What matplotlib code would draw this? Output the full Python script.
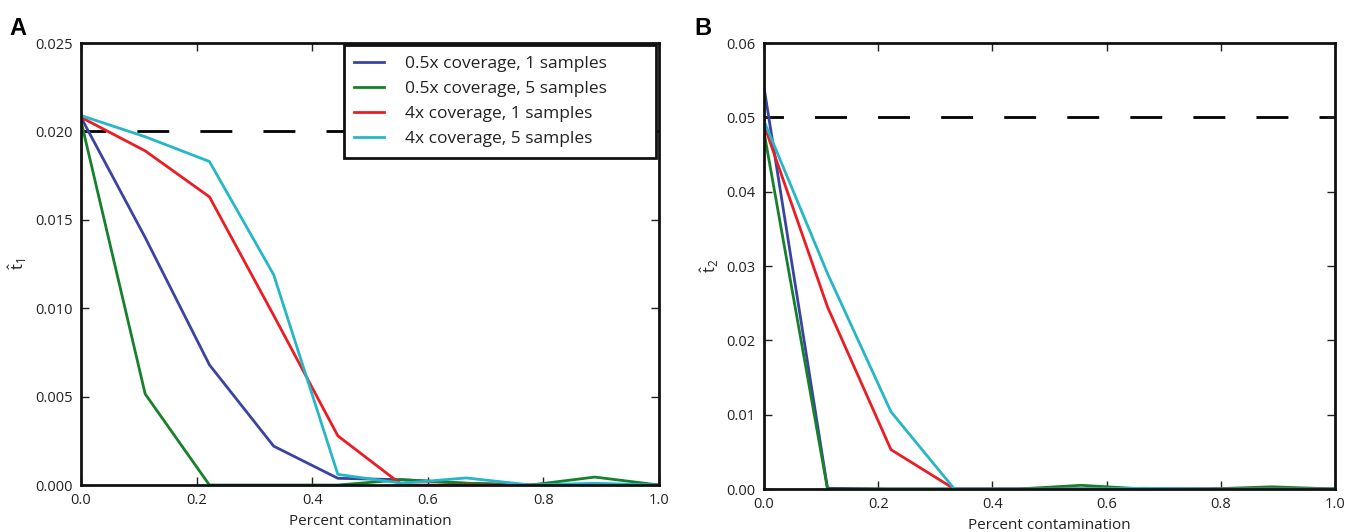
import numpy as np
import matplotlib
matplotlib.use("Agg")
import matplotlib.pyplot as plt

plt.rcParams['font.family'] = ['Open Sans', 'DejaVu Sans']
plt.rcParams['mathtext.fontset'] = 'custom'
plt.rcParams['mathtext.rm'] = 'Open Sans'
plt.rcParams['mathtext.it'] = 'Open Sans'

x = [0, 1/9, 2/9, 3/9, 4/9, 5/9, 6/9, 7/9, 8/9, 1.0]

labels = ["0.5x coverage, 1 samples", "0.5x coverage, 5 samples",
          "4x coverage, 1 samples", "4x coverage, 5 samples"]
colors = ['#3a44a0', '#17802c', '#ec1c24', '#25b7c6']

# Panel A: t1
a_blue = [0.0208, 0.0140, 0.0068, 0.0022, 0.00038, 0.0003, 0.0001, 0.0, 0.0, 0.0]
a_green = [0.0206, 0.00515, 0.0, 0.0, 0.0, 0.0003, 0.0001, 0.0, 0.00045, 0.0]
a_red = [0.0208, 0.0189, 0.0163, 0.0096, 0.00278, 0.0, 0.0, 0.0, 0.0, 0.0]
a_cyan = [0.0209, 0.0197, 0.0183, 0.0119, 0.0006, 0.0001, 0.0004, 0.0, 0.0001, 0.0]
a_thresh = 0.02

# Panel B: t2
b_blue = [0.054, 0.0001, 0.0, 0.0, 0.0, 0.0, 0.0, 0.0, 0.0, 0.0]
b_green = [0.048, 0.0, 0.0, 0.0, 0.0, 0.0005, 0.0, 0.0, 0.0003, 0.0]
b_red = [0.049, 0.0245, 0.0053, 0.0, 0.0, 0.0, 0.0, 0.0, 0.0, 0.0]
b_cyan = [0.0495, 0.029, 0.0104, 0.0, 0.0, 0.0, 0.0001, 0.0, 0.0, 0.0]
b_thresh = 0.05

fig = plt.figure(figsize=(13.54, 5.32), dpi=100)
axA = fig.add_axes([0.0598, 0.0883, 0.4269, 0.8308])
axB = fig.add_axes([0.5643, 0.0808, 0.4217, 0.8383])

def style(ax, ylim, yticks, yfmt, ylabel):
    ax.set_xlim(0, 1)
    ax.set_ylim(*ylim)
    ax.set_xticks([0, 0.2, 0.4, 0.6, 0.8, 1.0])
    ax.set_xticklabels(['0.0', '0.2', '0.4', '0.6', '0.8', '1.0'])
    ax.set_yticks(yticks)
    ax.set_yticklabels([yfmt.format(v) for v in yticks])
    ax.tick_params(direction='in', top=True, right=True, length=6, width=1,
                   labelsize=10.5, colors='#222222', pad=6)
    for s in ax.spines.values():
        s.set_linewidth(2)
        s.set_color('#111111')
    ax.set_xlabel('Percent contamination', fontsize=11, color='#222222', labelpad=4)
    ax.set_ylabel(ylabel, fontsize=12, color='#222222')

for ax, series, thr, off in [(axA, [a_blue, a_green, a_red, a_cyan], a_thresh, 2.6),
                             (axB, [b_blue, b_green, b_red, b_cyan], b_thresh, 4.5)]:
    for ys, c, lab in zip(series, colors, labels):
        ax.plot(x, ys, color=c, lw=2, label=lab, clip_on=True)
    ax.axhline(thr, color='black', lw=2, linestyle=(off, (11.5, 11.2)), zorder=1)

style(axA, (0, 0.025), [0, 0.005, 0.010, 0.015, 0.020, 0.025], '{:.3f}', r'$\hat{\mathrm{t}}_1$')
style(axB, (0, 0.06), [0, 0.01, 0.02, 0.03, 0.04, 0.05, 0.06], '{:.2f}', r'$\hat{\mathrm{t}}_2$')

leg = axA.legend(loc='upper left', bbox_to_anchor=(0.455, 0.7, 0.54, 0.2955),
                 mode='expand', borderaxespad=0,
                 fontsize=12.5, frameon=True, fancybox=False,
                 framealpha=1, handlelength=1.7, borderpad=0.6, labelspacing=0.52,
                 handletextpad=1.2)
leg.get_frame().set_edgecolor('#111111')
leg.get_frame().set_linewidth(2)
for t in leg.get_texts():
    t.set_color('#222222')

fig.text(0.007, 0.935, 'A', fontsize=17, fontweight='bold', family='Liberation Sans')
fig.text(0.513, 0.935, 'B', fontsize=17, fontweight='bold', family='Liberation Sans')

fig.savefig('out.png', dpi=100)
